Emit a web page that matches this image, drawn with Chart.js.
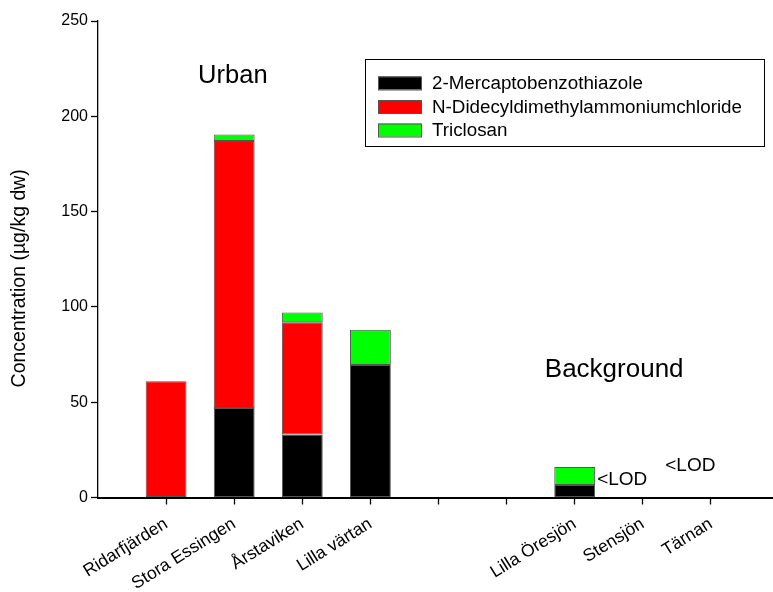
<!DOCTYPE html>
<html>
<head>
<meta charset="utf-8">
<script src="https://cdn.jsdelivr.net/npm/chart.js@4.4.1/dist/chart.umd.min.js"></script>
<style>
  html, body { margin: 0; padding: 0; background: #fff; overflow: hidden; }
  #wrap { width: 779px; height: 592px; }
</style>
</head>
<body>
<div id="wrap"><canvas id="chart" width="779" height="592"></canvas></div>
<script>
// Sampling sites (two blank slots separate urban from background lakes)
const sites = ['Ridarfjärden', 'Stora Essingen', 'Årstaviken', 'Lilla värtan', '', '', 'Lilla Öresjön', 'Stensjön', 'Tärnan'];

// Concentrations, µg/kg dw (null = not detected / not shown)
const mbt       = [null, 47,  33,  69.5, null, null, 6.5, null, null];
const ddac      = [61,   140, 59,  null, null, null, null, null, null];
const triclosan = [null, 3.5, 5,   18.5, null, null, 9.5, null, null];

const seriesNames = ['2-Mercaptobenzothiazole', 'N-Didecyldimethylammoniumchloride', 'Triclosan'];
const seriesColors = ['#000000', '#ff0000', '#00ff00'];

const yTicks = [0, 50, 100, 150, 200, 250];
const yTitle = 'Concentration (µg/kg dw)';

// Free text placed in data coordinates
const notes = [
  { text: 'Urban',      x: 1.98, y: 221,  align: 'center', size: 25.5 },
  { text: 'Background', x: 7.58, y: 67,   align: 'center', size: 26 },
  { text: '<LOD',       x: 7.33, y: 9.2,  align: 'left',   size: 19 },
  { text: '<LOD',       x: 8.33, y: 16.5, align: 'left',   size: 19 }
];

const toPoints = arr => arr.map((v, i) => ({ x: i + 1, y: v }));

const FONT = '"Liberation Sans", Arial, sans-serif';
Chart.defaults.font.family = FONT;
Chart.defaults.color = '#000';

const notesPlugin = {
  id: 'notes',
  afterDatasetsDraw(chart) {
    const { ctx, scales: { x, y } } = chart;
    ctx.save();
    ctx.fillStyle = '#000';
    ctx.textBaseline = 'middle';
    notes.forEach(n => {
      ctx.font = n.size + 'px ' + FONT;
      ctx.textAlign = n.align;
      ctx.fillText(n.text, x.getPixelForValue(n.x), y.getPixelForValue(n.y));
    });
    // vertical axis title, sitting a little below the axis midpoint
    ctx.font = '19.5px ' + FONT;
    ctx.textAlign = 'center';
    ctx.translate(20, y.getPixelForValue(115));
    ctx.rotate(-Math.PI / 2);
    ctx.fillText(yTitle, 0, 0);
    ctx.restore();
  }
};

// Boxed legend inside the plot area
const boxLegend = {
  id: 'boxLegend',
  afterDraw(chart) {
    const ctx = chart.ctx;
    const bx = 365, by = 59, bw = 399, bh = 87;
    ctx.save();
    ctx.strokeStyle = '#000';
    ctx.lineWidth = 1;
    ctx.fillStyle = '#fff';
    ctx.fillRect(bx, by, bw, bh);
    ctx.strokeRect(bx + 0.5, by + 0.5, bw, bh);
    ctx.font = '18.8px ' + FONT;
    ctx.textBaseline = 'middle';
    ctx.textAlign = 'left';
    chart.data.datasets.forEach((ds, i) => {
      const cy = 83 + i * 23.5;
      ctx.fillStyle = ds.backgroundColor;
      ctx.fillRect(378, cy - 6.5, 43, 13);
      ctx.strokeStyle = '#555';
      ctx.strokeRect(378.5, cy - 6, 43, 13);
      ctx.fillStyle = '#000';
      ctx.fillText(ds.label, 432, cy + 1);
    });
    ctx.restore();
  }
};

new Chart(document.getElementById('chart'), {
  type: 'bar',
  data: {
    datasets: [mbt, ddac, triclosan].map((vals, i) => ({
      label: seriesNames[i],
      data: toPoints(vals),
      backgroundColor: seriesColors[i],
      borderColor: '#555',
      borderWidth: 1,
      borderSkipped: false,
      barPercentage: 0.6,
      categoryPercentage: 1.0
    }))
  },
  options: {
    responsive: false,
    animation: false,
    layout: { padding: { top: 21, right: 0, left: 0, bottom: 0 } },
    plugins: { legend: { display: false }, tooltip: { enabled: false } },
    scales: {
      x: {
        type: 'linear',
        stacked: true,
        offset: false,
        min: 0,
        max: 10,
        afterBuildTicks: s => { s.ticks = sites.map((_, i) => ({ value: i + 1 })); },
        afterFit: s => { s.height = 94.5; s.paddingLeft = 0; s.paddingRight = 0; },
        ticks: {
          autoSkip: false,
          minRotation: 32,
          maxRotation: 32,
          padding: 9,
          font: { size: 17.5 },
          callback: v => sites[v - 1]
        },
        grid: { offset: false, drawOnChartArea: false, drawTicks: true, tickLength: 7, tickColor: '#000', tickWidth: 1.3 },
        border: { color: '#000', width: 2 }
      },
      y: {
        stacked: true,
        min: 0,
        max: 250,
        afterBuildTicks: s => { s.ticks = yTicks.map(v => ({ value: v })); },
        afterFit: s => { s.width = 98; },
        ticks: { font: { size: 16 }, padding: 3 },
        grid: { drawOnChartArea: false, drawTicks: true, tickLength: 7, tickColor: '#000', tickWidth: 1.3 },
        border: { color: '#000', width: 1.3 }
      }
    }
  },
  plugins: [notesPlugin, boxLegend]
});
</script>
</body>
</html>
